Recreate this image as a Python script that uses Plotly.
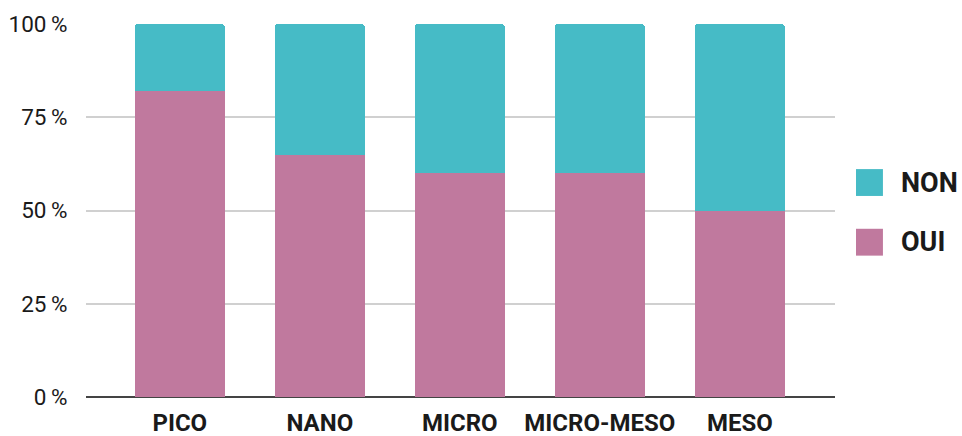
import plotly.graph_objects as go

categories = ["PICO", "NANO", "MICRO", "MICRO-MESO", "MESO"]
oui = [82, 65, 60, 60, 50]
non = [18, 35, 40, 40, 50]
tick_vals = [0, 25, 50, 75, 100]
tick_text = ["0\u2009%", "25\u2009%", "50\u2009%", "75\u2009%", "100\u2009%"]

OUI_COLOR = "#C0799E"
NON_COLOR = "#46BBC6"
FONT = "Roboto, Arial, sans-serif"

fig = go.Figure()
fig.add_trace(go.Bar(x=categories, y=oui, name="OUI", marker_color=OUI_COLOR,
                     marker_line_width=0, showlegend=False))
fig.add_trace(go.Bar(x=categories, y=non, name="NON", marker_color=NON_COLOR,
                     marker_line_width=0, showlegend=False))

# legend drawn manually (large swatches)
legend_items = [("NON", NON_COLOR, 0.575), ("OUI", OUI_COLOR, 0.415)]
for label, color, yc in legend_items:
    fig.add_shape(type="rect", xref="paper", yref="paper",
                  x0=1.028, x1=1.064, y0=yc - 0.036, y1=yc + 0.036,
                  fillcolor=color, line_width=0, layer="above")
    fig.add_annotation(text="<b>" + label + "</b>", xref="paper", yref="paper",
                       x=1.086, y=yc, xanchor="left", yanchor="middle",
                       showarrow=False, font=dict(size=27, color="#1a1a1a", family=FONT))

fig.update_layout(
    width=962, height=436,
    margin=dict(l=86, r=127, t=24, b=39, autoexpand=False),
    barmode="stack",
    bargap=0.36,
    barcornerradius=3,
    plot_bgcolor="white",
    paper_bgcolor="white",
    font=dict(family=FONT, color="#1a1a1a", size=22),
    showlegend=False,
    xaxis=dict(
        range=[-0.67, 4.68],
        tickfont=dict(size=24, family=FONT),
        ticks="outside", ticklen=4, tickcolor="rgba(0,0,0,0)",
        tickvals=categories,
        ticktext=["<b>" + c + "</b>" for c in categories],
        showgrid=False, showline=False, zeroline=False,
        automargin=False,
    ),
    yaxis=dict(
        range=[0, 100],
        tickvals=tick_vals, ticktext=tick_text,
        tickfont=dict(size=22.5, family=FONT),
        ticks="outside", ticklen=13, tickcolor="rgba(0,0,0,0)",
        showgrid=True, gridcolor="#d0d0d0", gridwidth=1.5,
        zeroline=True, zerolinecolor="#444", zerolinewidth=2,
        showline=False,
        automargin=False,
    ),
)

fig.write_html("out.html")
